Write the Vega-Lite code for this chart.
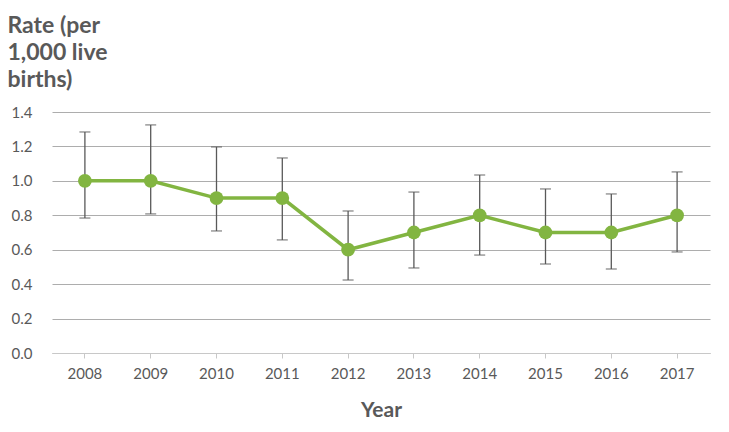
{
  "$schema": "https://vega.github.io/schema/vega-lite/v6.json",
  "autosize": "none",
  "width": 658,
  "height": 241,
  "padding": {"left": 52, "top": 112, "right": 19, "bottom": 79},
  "background": "white",
  "config": {"view": {"stroke": null},
    "axisY": {"values": [0, 0.2, 0.4, 0.6, 0.8, 1.0, 1.2, 1.4], "format": ".1f", "labelOverlap": false,
      "labelFont": "Lato", "labelFontSize": 15, "labelColor": "#595959", "labelPadding": 20,
      "ticks": false, "domain": false, "grid": true, "gridColor": "#adadad", "gridWidth": 1,
      "titleAngle": 0, "titleAlign": "left", "titleBaseline": "top",
      "titleX": -45, "titleY": -98, "titleFont": "Lato", "titleFontSize": 23, "titleFontWeight": "bold",
      "titleColor": "#595959", "titleLineHeight": 27}},
  "data": {"values": [
    {"year": "2008", "rate": 1.0, "lo": 0.784, "hi": 1.284},
    {"year": "2009", "rate": 1.0, "lo": 0.808, "hi": 1.325},
    {"year": "2010", "rate": 0.9, "lo": 0.709, "hi": 1.197},
    {"year": "2011", "rate": 0.9, "lo": 0.657, "hi": 1.133},
    {"year": "2012", "rate": 0.6, "lo": 0.424, "hi": 0.825},
    {"year": "2013", "rate": 0.7, "lo": 0.494, "hi": 0.935},
    {"year": "2014", "rate": 0.8, "lo": 0.569, "hi": 1.034},
    {"year": "2015", "rate": 0.7, "lo": 0.517, "hi": 0.953},
    {"year": "2016", "rate": 0.7, "lo": 0.488, "hi": 0.924},
    {"year": "2017", "rate": 0.8, "lo": 0.587, "hi": 1.052}
  ]},
  "encoding": {
    "x": {"field": "year", "type": "ordinal",
      "scale": {"type": "band", "paddingInner": 0, "paddingOuter": 0},
      "axis": {"title": "Year", "labelAngle": 0, "labelFont": "Lato", "labelFontSize": 15, "labelColor": "#595959",
        "titleFont": "Lato", "titleFontSize": 21, "titleFontWeight": "bold", "titleColor": "#595959", "titlePadding": 18,
        "domain": true, "domainColor": "#c8c8c8", "ticks": true, "tickColor": "#c8c8c8", "tickSize": 5, "labelPadding": 8, "grid": false}}
  },
  "layer": [
    {"mark": {"type": "rule", "color": "#595959", "strokeWidth": 1.3},
     "encoding": {
       "y": {"field": "lo", "type": "quantitative",
         "scale": {"domain": [0, 1.4], "nice": false},
         "axis": {"title": ["Rate (per", "1,000 live", "births)"]}},
       "y2": {"field": "hi"}
     }},
    {"mark": {"type": "tick", "color": "#595959", "thickness": 1.3, "size": 11},
     "encoding": {"y": {"field": "lo", "type": "quantitative", "axis": {"title": ["Rate (per", "1,000 live", "births)"]}}}},
    {"mark": {"type": "tick", "color": "#595959", "thickness": 1.3, "size": 11},
     "encoding": {"y": {"field": "hi", "type": "quantitative", "axis": {"title": ["Rate (per", "1,000 live", "births)"]}}}},
    {"mark": {"type": "line", "color": "#82b541", "strokeWidth": 3.5},
     "encoding": {"y": {"field": "rate", "type": "quantitative", "axis": {"title": ["Rate (per", "1,000 live", "births)"]}}}},
    {"mark": {"type": "point", "filled": true, "color": "#82b541", "size": 190, "opacity": 1},
     "encoding": {"y": {"field": "rate", "type": "quantitative", "axis": {"title": ["Rate (per", "1,000 live", "births)"]}}}}
  ]
}
